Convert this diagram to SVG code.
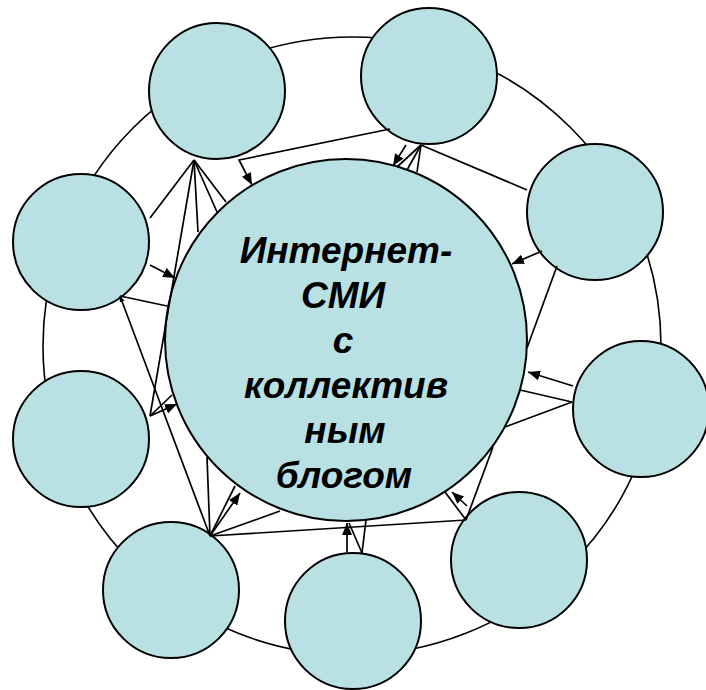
<svg xmlns="http://www.w3.org/2000/svg" width="706" height="690" viewBox="0 0 706 690">
<style>
.node{fill:#B9E0E3;stroke:#000;stroke-width:2}
.ring{fill:none;stroke:#000;stroke-width:1.6}
.c line,.c polyline{stroke:#000;stroke-width:1.7;fill:none}
.a{marker-end:url(#ah)}
.as{marker-end:url(#ahs)}
.t{font-family:"Liberation Sans",Arial,sans-serif;font-weight:bold;font-style:italic;font-size:37px;fill:#000;text-anchor:middle}
</style>
<defs>
<marker id="ah" markerUnits="userSpaceOnUse" markerWidth="14" markerHeight="10" refX="12" refY="5" orient="auto">
<path d="M0,0 L12,5 L0,10 z" fill="#000"/>
</marker>
<marker id="ahs" markerUnits="userSpaceOnUse" markerWidth="7" markerHeight="6" refX="6" refY="2.5" orient="auto">
<path d="M0,0 L6,2.5 L0,5 z" fill="#000"/>
</marker>
</defs>
<circle class="ring" cx="352" cy="346" r="309"/>
<g id="n1"><circle class="node" cx="217" cy="91" r="68"/></g>
<g id="n2"><circle class="node" cx="429" cy="76" r="68"/></g>
<g id="n3"><circle class="node" cx="595" cy="212" r="68"/></g>
<g id="n4"><circle class="node" cx="641" cy="409" r="68"/></g>
<g id="n5"><circle class="node" cx="519" cy="560" r="68"/></g>
<g id="n6"><circle class="node" cx="353" cy="621" r="68"/></g>
<g id="n7"><circle class="node" cx="171" cy="590" r="68"/></g>
<g id="n8"><circle class="node" cx="81" cy="439" r="68"/></g>
<g id="n9"><circle class="node" cx="81" cy="242" r="68"/></g>
<g id="center">
<circle class="node" cx="346" cy="340" r="181"/>
<text class="t" x="346" y="263">Интернет-</text>
<text class="t" x="343" y="308">СМИ</text>
<text class="t" x="343" y="353">с</text>
<text class="t" x="346" y="398">коллектив</text>
<text class="t" x="345" y="443">ным</text>
<text class="t" x="344" y="488">блогом</text>
</g>
<g id="connectors" class="c">
<polyline class="a" points="390,129 239,160 252,185"/>
<line class="a" x1="406" y1="145" x2="393" y2="166"/>
<line class="a" x1="542" y1="251" x2="512" y2="264"/>
<line class="a" x1="573" y1="386" x2="528" y2="372"/>
<line class="a" x1="467" y1="506" x2="452" y2="492"/>
<line class="a" x1="347" y1="552" x2="347" y2="523"/>
<line class="a" x1="210" y1="536" x2="240" y2="493"/>
<line class="a" x1="150" y1="416" x2="177" y2="404"/>
<line class="a" x1="150" y1="265" x2="175" y2="278"/>
<line class="as" x1="210" y1="536" x2="120" y2="296"/>
<line x1="421" y1="145" x2="397" y2="167"/>
<line x1="421" y1="145" x2="407" y2="170"/>
<line x1="421" y1="145" x2="417" y2="172"/>
<line x1="421" y1="145" x2="527" y2="190"/>
<line x1="557" y1="266" x2="527" y2="348"/>
<line x1="572" y1="402" x2="520" y2="390"/>
<line x1="572" y1="402" x2="505" y2="427"/>
<line x1="466" y1="520" x2="445" y2="492"/>
<line x1="466" y1="520" x2="493" y2="447"/>
<line x1="210" y1="536" x2="466" y2="520"/>
<line x1="362" y1="553" x2="366" y2="520"/>
<line x1="362" y1="553" x2="349" y2="523"/>
<line x1="210" y1="536" x2="280" y2="511"/>
<line x1="210" y1="536" x2="235" y2="486"/>
<line x1="210" y1="536" x2="207" y2="457"/>
<line x1="120" y1="296" x2="167" y2="306"/>
<line x1="150" y1="416" x2="194" y2="160"/>
<line x1="150" y1="416" x2="172" y2="395"/>
<line x1="194" y1="160" x2="150" y2="218"/>
<line x1="194" y1="160" x2="198" y2="232"/>
<line x1="194" y1="160" x2="217" y2="212"/>
<line x1="194" y1="160" x2="226" y2="202"/>
</g>
</svg>
